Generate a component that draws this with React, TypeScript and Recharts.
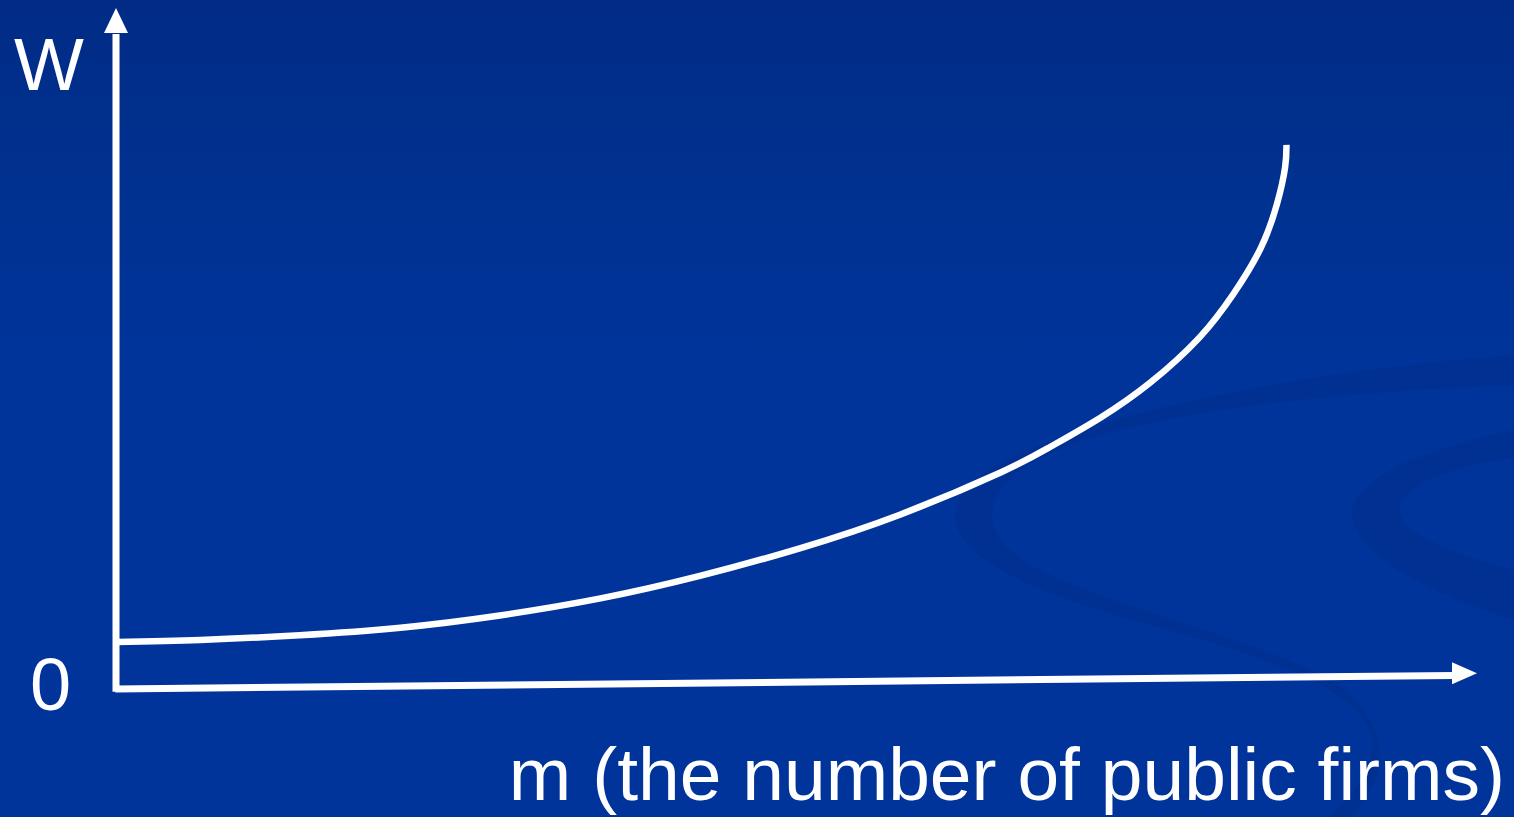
import { LineChart, Line, XAxis, YAxis, ReferenceLine, ReferenceDot } from 'recharts';

// m (number of public firms) vs W
const mValues = [0, 0.62, 1.35, 2.09, 2.82, 3.56, 4.29, 5.03, 5.76, 6.5, 6.86, 7.23, 7.6, 7.96, 8.21, 8.41, 8.53, 8.59, 8.6];
const wValues = [0.69, 0.72, 0.79, 0.9, 1.08, 1.33, 1.66, 2.07, 2.56, 3.18, 3.55, 3.98, 4.5, 5.16, 5.8, 6.47, 7.12, 7.66, 7.99];

const yAxisLabel = 'W';
const originLabel = '0';
const xAxisLabel = 'm (the number of public firms)';

const curve = mValues.map((m, i) => ({ m, w: wValues[i] }));

const W = 1514;
const H = 817;
const FONT = '"Liberation Sans", Arial, sans-serif';

const upArrow = (p: any) => (
  <polygon points={`${p.cx},${p.cy} ${p.cx - 12},${p.cy + 25} ${p.cx + 12},${p.cy + 25}`} fill="#fff" />
);
const rightArrow = (p: any) => (
  <polygon points={`${p.cx},${p.cy} ${p.cx - 25},${p.cy - 11} ${p.cx - 25},${p.cy + 11}`} fill="#fff" />
);

export default function App() {
  return (
    <div
      style={{
        position: 'fixed',
        left: 0,
        top: 0,
        width: W,
        height: H,
        overflow: 'hidden',
        background: 'linear-gradient(180deg, #012b86 0%, #00318f 20%, #00349a 45%, #00349a 100%)',
      }}
    >
      {/* background swirls of the slide template */}
      <svg width={W} height={H} style={{ position: 'absolute', left: 0, top: 0 }}>
        <path
          d="M1514 355 C1300 370 1050 420 975 480 C920 530 980 580 1150 625 C1300 665 1390 705 1370 760 C1360 790 1340 805 1330 817 L1350 817 C1390 780 1395 720 1330 680 C1260 640 1120 610 1040 570 C960 530 980 470 1100 435 C1230 400 1400 390 1514 385 Z"
          fill="#002f8e"
          opacity={0.6}
        />
        <path
          d="M1514 430 C1420 450 1350 480 1352 515 C1355 560 1450 600 1514 620 L1514 570 C1440 550 1395 530 1400 505 C1410 480 1460 465 1514 458 Z"
          fill="#002f8e"
          opacity={0.6}
        />
      </svg>

      <div style={{ position: 'absolute', left: 0, top: 0 }}>
        <LineChart width={W} height={H} data={curve} margin={{ top: 8, right: 37, bottom: 128, left: 116 }}>
          <XAxis dataKey="m" type="number" domain={[0, 10]} hide allowDataOverflow />
          <YAxis type="number" domain={[0, 10]} hide allowDataOverflow />
          <ReferenceLine
            segment={[{ x: 0, y: -0.04 }, { x: 0, y: 9.62 }]}
            stroke="#fff"
            strokeWidth={7}
            ifOverflow="visible"
          />
          <ReferenceLine
            segment={[{ x: -0.005, y: 0 }, { x: 9.83, y: 0.2 }]}
            stroke="#fff"
            strokeWidth={7}
            ifOverflow="visible"
          />
          <ReferenceDot x={0} y={10} r={1} shape={upArrow} ifOverflow="visible" />
          <ReferenceDot x={10} y={0.23} r={1} shape={rightArrow} ifOverflow="visible" />
          <Line
            type="natural"
            dataKey="w"
            stroke="#fff"
            strokeWidth={6.5}
            dot={false}
            activeDot={false}
            isAnimationActive={false}
          />
        </LineChart>
      </div>

      <svg width={W} height={H} style={{ position: 'absolute', left: 0, top: 0, pointerEvents: 'none' }}>
        <text x={14} y={90} fill="#fff" fontSize={74} fontFamily={FONT}>
          {yAxisLabel}
        </text>
        <text x={30} y={710} fill="#fff" fontSize={74} fontFamily={FONT}>
          {originLabel}
        </text>
        <text x={1505} y={800} fill="#fff" fontSize={75} fontFamily={FONT} textAnchor="end">
          {xAxisLabel}
        </text>
      </svg>
    </div>
  );
}
